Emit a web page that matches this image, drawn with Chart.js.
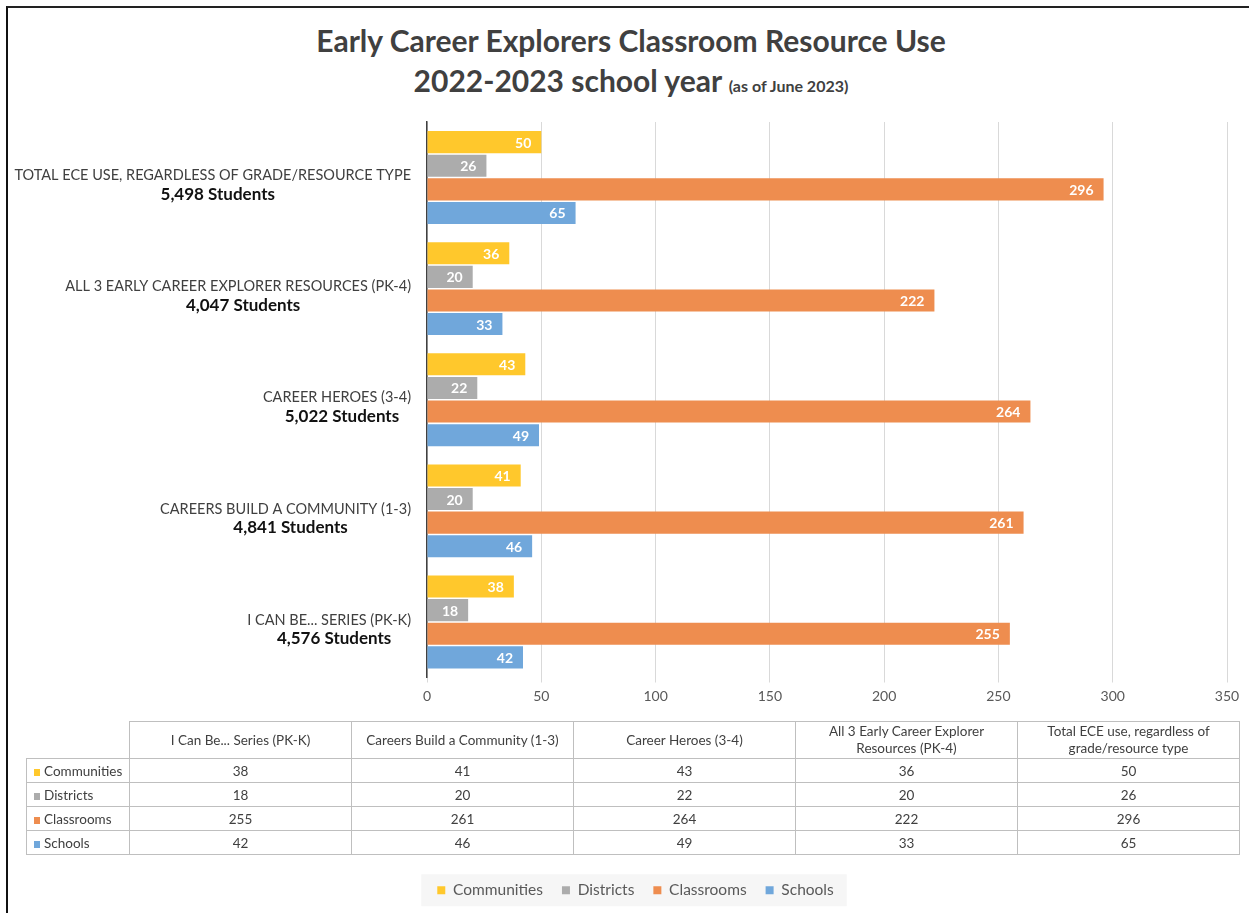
<!DOCTYPE html>
<html>
<head>
<meta charset="utf-8">
<script src="https://cdn.jsdelivr.net/npm/chart.js@4.4.1/dist/chart.umd.min.js"></script>
<style>
  html, body { margin: 0; padding: 0; background: #fff; }
  body { width: 1249px; height: 913px; position: relative; overflow: hidden; font-family: Lato, "Open Sans", sans-serif; }
  #frame { position: absolute; left: 6px; top: 6px; width: 1300px; height: 1000px; border-left: 2px solid #111; border-top: 2px solid #222; }
  #title { position: absolute; left: 0; width: 1262px; top: 20px; text-align: center; color: #404040; font-weight: bold; font-size: 30px; line-height: 40px; }
  #title small { font-size: 16px; }
  #wrap { position: absolute; left: 0; top: 0; width: 1249px; height: 913px; }
  #dataTable { position: absolute; left: 26px; top: 721px; border-collapse: collapse; table-layout: fixed; color: #404040; font-size: 13.5px; }
  #dataTable td { border: 1px solid #bfbfbf; text-align: center; padding: 0; height: 23px; }
  #dataTable tr.head td { height: 36px; line-height: 17px; }
  #dataTable td.corner { border-top: none; border-left: none; }
  #dataTable td.rowName { text-align: left; padding-left: 7px; }
  #dataTable .key { display: inline-block; width: 6px; height: 7px; margin-right: 4px; vertical-align: 0px; }
</style>
</head>
<body>
<div id="frame"></div>
<div id="title">Early Career Explorers Classroom Resource Use<br>2022-2023 school year <small>(as of June 2023)</small></div>
<div id="wrap"><canvas id="chart" width="1249" height="913"></canvas></div>
<table id="dataTable"></table>
<script>
// ─── DATA (table order, left to right) ─────────────────────────
const tableCategories = [
  "I Can Be... Series (PK-K)",
  "Careers Build a Community (1-3)",
  "Career Heroes (3-4)",
  "All 3 Early Career Explorer<br>Resources (PK-4)",
  "Total ECE use, regardless of<br>grade/resource type",
];
const axisCategories = [
  "I CAN BE... SERIES (PK-K)",
  "CAREERS BUILD A COMMUNITY (1-3)",
  "CAREER HEROES (3-4)",
  "ALL 3 EARLY CAREER EXPLORER RESOURCES (PK-4)",
  "TOTAL ECE USE, REGARDLESS OF GRADE/RESOURCE TYPE",
];
const studentCounts = ["4,576 Students", "4,841 Students", "5,022 Students", "4,047 Students", "5,498 Students"];
const seriesNames = ["Communities", "Districts", "Classrooms", "Schools"];
const communities = [38, 41, 43, 36, 50];
const districts = [18, 20, 22, 20, 26];
const classrooms = [255, 261, 264, 222, 296];
const schools = [42, 46, 49, 33, 65];
const xTicks = [0, 50, 100, 150, 200, 250, 300, 350];

const seriesColors = ["#ffc82c", "#acacac", "#ee8d4f", "#70a7db"];
const seriesValues = [communities, districts, classrooms, schools];

// ─── DATA TABLE ────────────────────────────────────────────────
const table = document.getElementById("dataTable");
let html = '<colgroup><col style="width:103px">' + tableCategories.map(() => '<col style="width:222px">').join("") + "</colgroup>";
html += '<tr class="head"><td class="corner"></td>' + tableCategories.map((c) => "<td>" + c + "</td>").join("") + "</tr>";
seriesNames.forEach((name, s) => {
  html += '<tr><td class="rowName"><span class="key" style="background:' + seriesColors[s] + '"></span>' + name + "</td>";
  html += seriesValues[s].map((v) => "<td>" + v + "</td>").join("") + "</tr>";
});
table.innerHTML = html;

// ─── PLUGINS ───────────────────────────────────────────────────
// category labels: two lines, uppercase name + bold student count
const categoryLabels = {
  id: "categoryLabels",
  afterDraw(chart) {
    const ctx = chart.ctx;
    const yScale = chart.scales.y;
    const names = chart.data.labels;
    const counts = [...studentCounts].reverse();
    const nameFont = "14.5px Lato";
    const countFont = "bold 17px Lato";
    ctx.save();
    ctx.textAlign = "center";
    ctx.textBaseline = "middle";
    names.forEach((name, i) => {
      const y = yScale.getPixelForValue(i);
      ctx.font = nameFont;
      const w1 = ctx.measureText(name).width;
      ctx.font = countFont;
      const w2 = ctx.measureText(counts[i]).width;
      const cx = 411 - Math.max(w1, w2) / 2;
      ctx.font = nameFont;
      ctx.fillStyle = "#404040";
      ctx.fillText(name, cx, y - 2);
      ctx.font = countFont;
      ctx.fillStyle = "#111";
      ctx.fillText(counts[i], cx + 5, y + 17);
    });
    ctx.restore();
  },
};

// white value labels at the inside end of each bar
const barLabels = {
  id: "barLabels",
  afterDatasetsDraw(chart) {
    const ctx = chart.ctx;
    ctx.save();
    ctx.font = "bold 14px Lato";
    ctx.fillStyle = "#fff";
    ctx.textAlign = "right";
    ctx.textBaseline = "middle";
    chart.data.datasets.forEach((ds, di) => {
      chart.getDatasetMeta(di).data.forEach((bar, i) => {
        ctx.fillText(ds.data[i], bar.x - 10, bar.y + 1);
      });
    });
    ctx.restore();
  },
};

// faint box behind the legend
const legendBox = {
  id: "legendBox",
  beforeDraw(chart) {
    const boxes = chart.legend.legendHitBoxes;
    if (!boxes || !boxes.length) return;
    const left = Math.min(...boxes.map((b) => b.left)) - 16;
    const right = Math.max(...boxes.map((b) => b.left + b.width)) + 13;
    const top = boxes[0].top + boxes[0].height / 2 - 16;
    const ctx = chart.ctx;
    ctx.save();
    ctx.fillStyle = "#f6f6f6";
    ctx.fillRect(left, top, right - left, 32);
    ctx.restore();
  },
};

// ─── CHART ─────────────────────────────────────────────────────
new Chart(document.getElementById("chart"), {
  type: "bar",
  data: {
    labels: [...axisCategories].reverse(),
    datasets: seriesNames.map((name, s) => ({
      label: name,
      data: [...seriesValues[s]].reverse(),
      backgroundColor: seriesColors[s],
      borderWidth: 0,
      categoryPercentage: 0.85,
      barPercentage: 0.935,
    })),
  },
  options: {
    indexAxis: "y",
    responsive: false,
    animation: false,
    layout: { padding: { top: 122, right: 22, bottom: 5, left: 44 } },
    scales: {
      x: {
        min: 0,
        max: 350,
        afterBuildTicks: (scale) => { scale.ticks = xTicks.map((v) => ({ value: v })); },
        afterFit: (scale) => { scale.height = 186; },
        grid: { color: "#d9d9d9", tickLength: 5 },
        border: { display: false },
        ticks: { color: "#595959", font: { family: "Lato", size: 14 }, padding: 6, maxRotation: 0 },
      },
      y: {
        afterFit: (scale) => { scale.width = 383; },
        grid: { display: false },
        border: { display: true, color: "#404040", width: 1.5 },
        ticks: { display: false },
      },
    },
    plugins: {
      legend: {
        position: "bottom",
        labels: { boxWidth: 8, boxHeight: 8, padding: 19, color: "#595959", font: { family: "Lato", size: 15.5 } },
      },
      tooltip: { enabled: false },
    },
  },
  plugins: [categoryLabels, barLabels, legendBox],
});
</script>
</body>
</html>
